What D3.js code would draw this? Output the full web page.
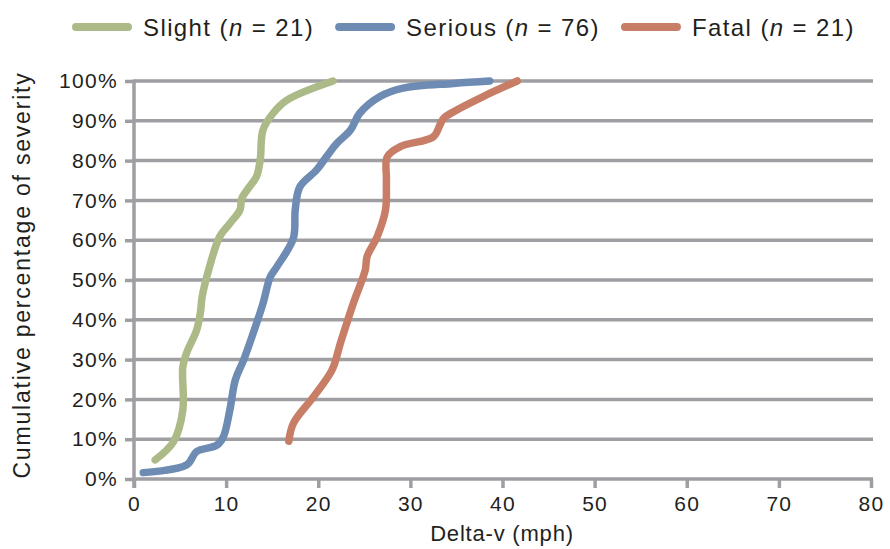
<!DOCTYPE html>
<html lang="en">
<head>
<meta charset="UTF-8">
<title>Cumulative percentage of severity by delta-v</title>
<script src="https://d3js.org/d3.v7.min.js"></script>
<style>
  body { margin: 0; background: #fff; }
  text { font-family: "Liberation Sans", Arial, sans-serif; fill: #231f20; }
</style>
</head>
<body>
<div id="chart"></div>
<script>
// -- data: [delta-v (mph), cumulative %] --
const slight = [[2.3, 4.8], [4.3, 9.4], [5.3, 17.3], [5.3, 28.2], [5.7, 31.6], [6.8, 37.4],
  [7.2, 41.7], [7.4, 45.8], [8.1, 52.5], [9.3, 60.9], [10.4, 64.2], [11.5, 67.6],
  [11.7, 70.5], [12.4, 73.0], [13.3, 76.0], [13.7, 80.2], [14.0, 87.7], [15.1, 91.9],
  [16.6, 95.2], [21.6, 100]];
const serious = [[1.0, 1.6], [5.7, 3.5], [6.8, 6.9], [9.0, 8.5], [9.7, 10.6], [10.4, 17.3],
  [11.0, 24.9], [11.9, 29.9], [13.3, 39.1], [14.0, 44.1], [14.8, 50.8], [15.5, 53.3],
  [17.3, 60.5], [17.5, 67.6], [18.0, 73.4], [19.8, 77.6], [20.9, 81.0], [22.0, 84.3],
  [23.5, 87.7], [24.5, 91.9], [26.7, 96.1], [29.2, 98.2], [34.7, 99.4], [38.6, 100]];
const fatal = [[16.8, 9.5], [17.3, 14.0], [19.5, 20.7], [21.5, 27.4], [22.4, 34.1], [23.8, 44.1],
  [25.1, 52.5], [25.3, 55.9], [26.4, 60.9], [27.3, 67.6], [27.4, 75.1], [27.5, 81.0],
  [28.9, 83.5], [32.5, 86.0], [33.2, 88.9], [33.6, 90.6], [34.7, 92.3], [37.9, 96.1],
  [41.6, 100]];

const seriesNames = ["Slight", "Serious", "Fatal"];
const seriesN = [21, 76, 21];
const seriesColors = ["#abba87", "#6e8bb3", "#c87e66"];
const xTicks = [0, 10, 20, 30, 40, 50, 60, 70, 80];
const yTicks = [0, 10, 20, 30, 40, 50, 60, 70, 80, 90, 100];

const width = 890, height = 549;
const grey = "#9e9ea3";

const svg = d3.select("#chart").append("svg")
    .attr("width", width)
    .attr("height", height);

const x = d3.scaleLinear().domain([0, 80]).range([134, 871]);
const y = d3.scaleLinear().domain([0, 100]).range([479, 81]);

// -- grid lines --
svg.append("g").selectAll("line")
    .data(yTicks)
    .join("line")
    .attr("x1", x(0)).attr("x2", x(80) + 2)
    .attr("y1", d => y(d)).attr("y2", d => y(d))
    .attr("stroke", grey).attr("stroke-width", 3.5);

// -- axes --
const yAxis = svg.append("g")
    .attr("transform", `translate(${x(0)},0)`)
    .call(d3.axisLeft(y).tickValues(yTicks).tickSize(9).tickPadding(7)
        .tickFormat(d => d + "%"));
const xAxis = svg.append("g")
    .attr("transform", `translate(0,${y(0)})`)
    .call(d3.axisBottom(x).tickValues(xTicks).tickSize(9).tickPadding(8));

[yAxis, xAxis].forEach(a => {
  a.select(".domain").attr("stroke", grey).attr("stroke-width", 3.5);
  a.selectAll(".tick line").attr("stroke", grey).attr("stroke-width", 3.5);
  a.selectAll(".tick text").attr("fill", "#231f20")
      .style("font-size", "21px").style("letter-spacing", "1.3px")
      .style("font-family", "'Liberation Sans', Arial, sans-serif");
});
yAxis.select(".domain").attr("d", `M0,${y(100) - 1.5}V${y(0) + 9}`);
xAxis.select(".domain").attr("d", "M0,0H0");

// -- series --
const line = d3.line()
    .x(d => x(d[0]))
    .y(d => y(d[1]))
    .curve(d3.curveCatmullRom.alpha(0.5));

[slight, serious, fatal].forEach((s, i) => {
  svg.append("path")
      .datum(s)
      .attr("d", line)
      .attr("fill", "none")
      .attr("stroke", seriesColors[i])
      .attr("stroke-width", 7.5)
      .attr("stroke-linecap", "round")
      .attr("stroke-linejoin", "round");
});

// -- axis titles --
svg.append("text")
    .attr("x", 502).attr("y", 541)
    .attr("text-anchor", "middle")
    .style("font-size", "22px").style("letter-spacing", "0.8px")
    .text("Delta-v (mph)");

svg.append("text")
    .attr("transform", "translate(30,275) rotate(-90)")
    .attr("text-anchor", "middle")
    .style("font-size", "23px").style("letter-spacing", "1.8px")
    .text("Cumulative percentage of severity");

// -- legend --
let lx = 72;
seriesNames.forEach((name, i) => {
  svg.append("line")
      .attr("x1", lx + 4).attr("x2", lx + 56)
      .attr("y1", 27).attr("y2", 27)
      .attr("stroke", seriesColors[i])
      .attr("stroke-width", 8)
      .attr("stroke-linecap", "round");
  const t = svg.append("text")
      .attr("x", lx + 71).attr("y", 36)
      .style("font-size", "24px").style("letter-spacing", "1.4px");
  t.append("tspan").text(name + " (");
  t.append("tspan").style("font-style", "italic").text("n");
  t.append("tspan").text(" = " + seriesN[i] + ")");
  lx = lx + 71 + t.node().getComputedTextLength() + 21;
});
</script>
</body>
</html>
